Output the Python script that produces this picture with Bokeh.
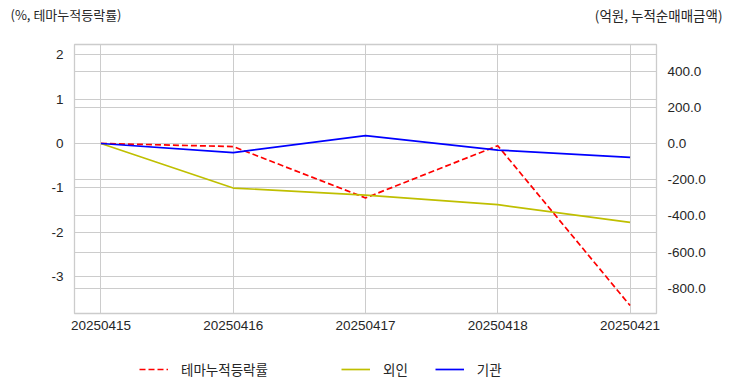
from bokeh.plotting import figure
from bokeh.models import (Range1d, LinearAxis, SingleIntervalTicker, FixedTicker, Grid,
                          NumeralTickFormatter, Legend, LegendItem, Label)
from bokeh.layouts import column, row
from bokeh.embed import file_html
from bokeh.resources import INLINE

dates = ["20250415", "20250416", "20250417", "20250418", "20250421"]
theme_cum = [0.0, -0.07, -1.23, -0.05, -3.66]
foreign = [0.0, -246.0, -285.0, -338.0, -436.0]
institution = [0.0, -50.0, 44.0, -36.0, -76.0]

left_title = "(%, 테마누적등락률)"
right_title = "(억원, 누적순매매금액)"
series_names = ["테마누적등락률", "외인", "기관"]

xs = list(range(len(dates)))

FONT = "Noto Sans CJK KR"
GRID = "#cccccc"
TXT = "#262626"
W = 732
TOP_H, LEG_H = 30, 42
MAIN_H = 392 - TOP_H - LEG_H

styles = [dict(line_color="#ff0000", line_width=1.7, line_dash="6 3"),
          dict(line_color="#bfbf00", line_width=1.7),
          dict(line_color="#0000ff", line_width=1.7)]


def strip(h):
    f = figure(width=W, height=h, output_backend="svg", toolbar_location=None,
               x_range=Range1d(0, W), y_range=Range1d(0, h),
               x_axis_type=None, y_axis_type=None,
               min_border=0, min_border_left=0, min_border_right=0,
               min_border_top=0, min_border_bottom=0)
    f.outline_line_color = None
    f.xgrid.visible = False
    f.ygrid.visible = False
    f.background_fill_color = "white"
    f.border_fill_color = "white"
    return f


# ---- top strip with the two axis captions
top = strip(TOP_H)
top.add_layout(Label(x=10, y=TOP_H - 14, text=left_title, text_font=FONT,
                     text_font_size="13px", text_color=TXT,
                     text_align="left", text_baseline="middle"))
top.add_layout(Label(x=722, y=TOP_H - 14, text=right_title, text_font=FONT,
                     text_font_size="13.5px", text_color=TXT,
                     text_align="right", text_baseline="middle"))

# ---- main chart
p = figure(width=W, height=MAIN_H, output_backend="svg", toolbar_location=None,
           x_range=Range1d(-0.2, 4.2), y_range=Range1d(-3.84, 2.235),
           min_border_left=74, min_border_right=76, min_border_top=44 - TOP_H,
           min_border_bottom=MAIN_H - (313 - TOP_H))
p.extra_y_ranges = {"right": Range1d(-939, 547)}

p.outline_line_color = GRID
p.outline_line_width = 1.3
p.background_fill_color = "white"
p.border_fill_color = "white"

p.xaxis.ticker = FixedTicker(ticks=xs)
p.xaxis.major_label_overrides = {i: d for i, d in enumerate(dates)}
p.yaxis.ticker = SingleIntervalTicker(interval=1)
p.yaxis.formatter = NumeralTickFormatter(format="0")

raxis = LinearAxis(y_range_name="right", ticker=SingleIntervalTicker(interval=200),
                   formatter=NumeralTickFormatter(format="0.0"))
p.add_layout(raxis, "right")

for ax in [p.xaxis[0], p.yaxis[0], raxis]:
    ax.axis_line_color = None
    ax.major_tick_line_color = None
    ax.minor_tick_line_color = None
    ax.major_label_text_font = "Liberation Sans"
    ax.major_label_text_font_size = "13.5px"
    ax.major_label_text_color = TXT
    ax.major_label_standoff = 5
p.xaxis.major_label_standoff = 1

p.xgrid.grid_line_color = GRID
p.ygrid.grid_line_color = GRID
p.add_layout(Grid(dimension=1, ticker=raxis.ticker, y_range_name="right",
                  grid_line_color=GRID, grid_line_width=1))

p.line(xs, theme_cum, **styles[0])
p.line(xs, foreign, y_range_name="right", **styles[1])
p.line(xs, institution, y_range_name="right", **styles[2])

# ---- legend strip (legend swatches need renderers in the same plot; kept hidden)
leg = strip(LEG_H)
h1 = leg.line(xs, theme_cum, visible=False, **styles[0])
h2 = leg.line(xs, foreign, visible=False, **styles[1])
h3 = leg.line(xs, institution, visible=False, **styles[2])


def mk_legend(items, loc):
    return Legend(items=items, location=loc, orientation="horizontal",
                  background_fill_alpha=0, border_line_color=None,
                  padding=0, margin=0, spacing=27, glyph_width=29, glyph_height=20,
                  label_standoff=13, label_text_font=FONT, label_text_font_size="13.5px",
                  label_text_color=TXT)


leg.add_layout(mk_legend([LegendItem(label=series_names[0], renderers=[h1])], (139, 13)))
leg.add_layout(mk_legend([LegendItem(label=series_names[1], renderers=[h2]),
                          LegendItem(label=series_names[2], renderers=[h3])], (341, 13)))

layout = column(row(top), p, row(leg), spacing=0)
open("out.html", "w").write(file_html(layout, INLINE))
